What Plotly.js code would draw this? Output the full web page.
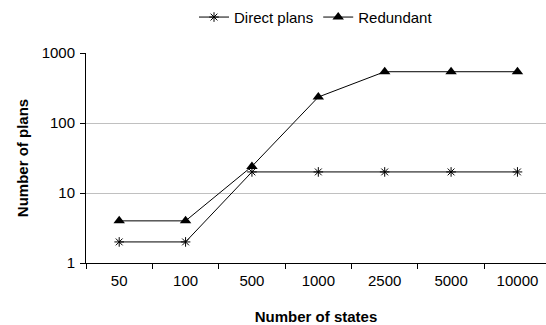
<!DOCTYPE html>
<html>
<head>
<meta charset="utf-8">
<script src="https://cdn.plot.ly/plotly-3.0.1.min.js"></script>
<style>html,body{margin:0;padding:0;background:#fff;}#chart{width:546px;height:325px;}</style>
</head>
<body>
<div id="chart"></div>
<script>
var categories = ["50", "100", "500", "1000", "2500", "5000", "10000"];
var directPlans = [2, 2, 20, 20, 20, 20, 20];
var redundant = [4, 4, 24, 235, 540, 540, 540];
var yTickVals = [1, 10, 100, 1000];
var yTickText = ["1", "10", "100", "1000"];

var font = {family: "Liberation Sans, Arial, sans-serif", size: 15, color: "#000"};

var traces = [
  {
    x: categories, y: directPlans, name: "Direct plans", type: "scatter", mode: "lines+markers",
    line: {color: "#000", width: 1},
    marker: {symbol: "asterisk-open", size: 8, color: "#000", line: {color: "#000", width: 1}}
  },
  {
    x: categories, y: redundant, name: "Redundant", type: "scatter", mode: "lines+markers",
    line: {color: "#000", width: 1},
    marker: {symbol: "triangle-up", size: 10, color: "#000"}
  }
];

var layout = {
  width: 546, height: 325,
  margin: {l: 86, r: 0, t: 53, b: 62, pad: 0},
  paper_bgcolor: "#fff", plot_bgcolor: "#fff",
  font: font,
  showlegend: true,
  legend: {orientation: "h", x: 0.5, xanchor: "center", y: 1.17, yanchor: "middle",
           font: font, itemwidth: 30, tracegroupgap: 0},
  xaxis: {
    type: "category", range: [-0.5, 6.43],
    showline: true, linecolor: "#000", linewidth: 1,
    ticks: "outside", ticklen: 5, tickcolor: "#000", tickson: "boundaries",
    showgrid: false, zeroline: false,
    tickfont: font, ticklabelstandoff: 4,
    title: {text: "Number of states", font: {family: font.family, size: 15, color: "#000", weight: "bold"}, standoff: 26}
  },
  yaxis: {
    type: "log", range: [0, 3],
    tickvals: yTickVals, ticktext: yTickText,
    showline: true, linecolor: "#000", linewidth: 1,
    ticks: "outside", ticklen: 5, tickcolor: "#000",
    showgrid: true, gridcolor: "#c0c0c0", gridwidth: 1, zeroline: false,
    tickfont: font, ticklabelstandoff: 2,
    title: {text: "Number of plans", font: {family: font.family, size: 15, color: "#000", weight: "bold"}, standoff: 9}
  }
};

Plotly.newPlot("chart", traces, layout, {staticPlot: true, displayModeBar: false});
</script>
</body>
</html>
